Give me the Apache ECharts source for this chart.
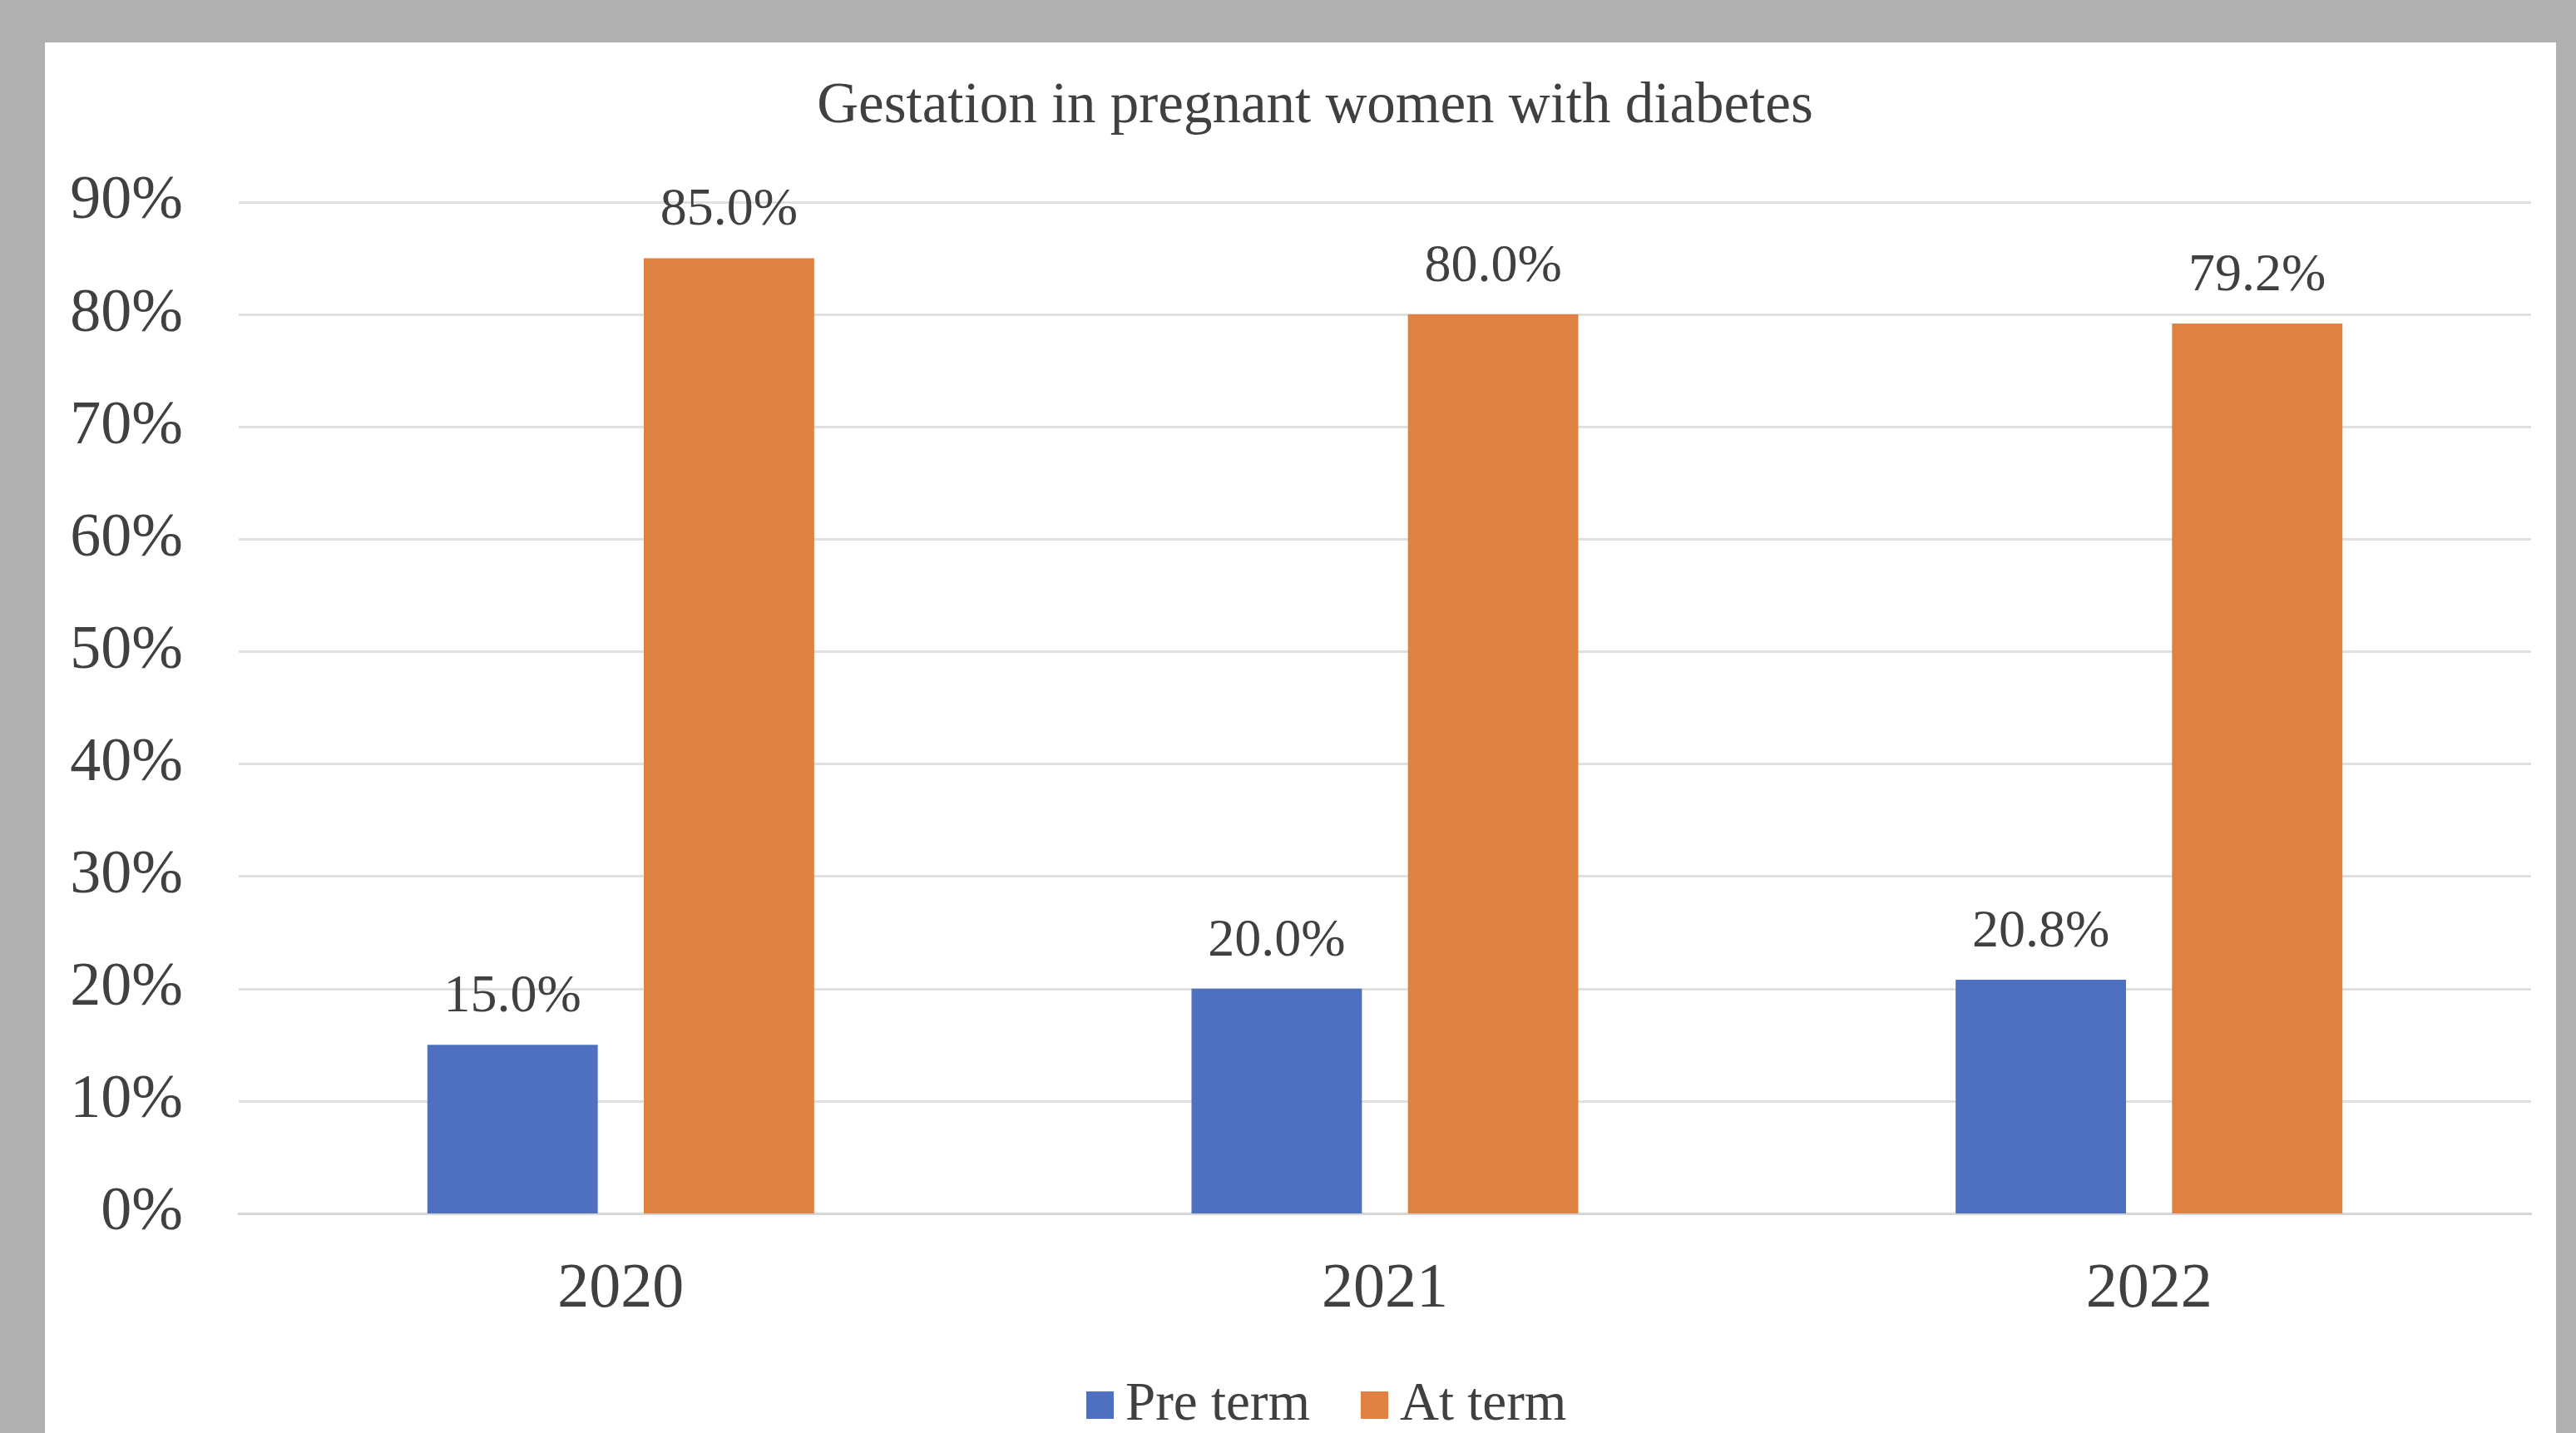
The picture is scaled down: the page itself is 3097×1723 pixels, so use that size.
<!DOCTYPE html>
<html>
<head>
<meta charset="utf-8">
<script src="https://cdn.jsdelivr.net/npm/echarts@6/dist/echarts.min.js"></script>
<style>
  html, body { margin: 0; padding: 0; background: #b0b0b0; width: 3097px; height: 1723px; overflow: hidden; }
  #card { position: absolute; left: 54px; top: 51px; width: 3019px; height: 1672px; background: #ffffff; }
  #chart { width: 3019px; height: 1672px; }
</style>
</head>
<body>
<div id="card"><div id="chart"></div></div>
<script>
const titleText = 'Gestation in pregnant women with diabetes';
const years = ['2020', '2021', '2022'];
const seriesNames = ['Pre term', 'At term'];
const preTerm = [15.0, 20.0, 20.8];
const atTerm = [85.0, 80.0, 79.2];
const yTicks = [0, 10, 20, 30, 40, 50, 60, 70, 80, 90];

const FONT = '"Liberation Serif", "Times New Roman", serif';
const TXT = '#404040';

const chart = echarts.init(document.getElementById('chart'), null, { renderer: 'canvas' });
chart.setOption({
  animation: false,
  backgroundColor: '#ffffff',
  title: {
    text: titleText,
    left: 1522,
    textAlign: 'center',
    top: 38,
    textStyle: { fontFamily: FONT, fontSize: 69, fontWeight: 'normal', color: TXT }
  },
  legend: {
    data: seriesNames,
    left: 1247,
    top: 1601,
    itemWidth: 33,
    itemHeight: 33,
    itemGap: 61,
    icon: 'rect',
    textStyle: { fontFamily: FONT, fontSize: 65, color: TXT, padding: [0, 0, 0, 9] }
  },
  grid: { left: 233, right: 30, top: 192, bottom: 264, containLabel: false },
  xAxis: {
    type: 'category',
    data: years,
    axisLine: { lineStyle: { color: '#d6d6d6', width: 3 } },
    axisTick: { show: false },
    axisLabel: { fontFamily: FONT, fontSize: 76, color: TXT, margin: 54, lineHeight: 76 }
  },
  yAxis: {
    type: 'value',
    min: yTicks[0],
    max: yTicks[yTicks.length - 1],
    interval: yTicks[1] - yTicks[0],
    axisLine: { show: false },
    axisTick: { show: false },
    splitLine: { lineStyle: { color: '#e0e0e0', width: 3 } },
    axisLabel: { fontFamily: FONT, fontSize: 74, color: TXT, margin: 67, padding: [8, 0, 0, 0], formatter: '{value}%' }
  },
  series: [
    {
      name: seriesNames[0],
      type: 'bar',
      data: preTerm,
      barWidth: '22.3%',
      barGap: '27%',
      itemStyle: { color: '#4e70be' },
      label: {
        show: true, position: 'top', distance: 25,
        fontFamily: FONT, fontSize: 64, color: TXT,
        formatter: p => p.value.toFixed(1) + '%'
      }
    },
    {
      name: seriesNames[1],
      type: 'bar',
      data: atTerm,
      barWidth: '22.3%',
      barGap: '27%',
      itemStyle: { color: '#de8142' },
      label: {
        show: true, position: 'top', distance: 25,
        fontFamily: FONT, fontSize: 64, color: TXT,
        formatter: p => p.value.toFixed(1) + '%'
      }
    }
  ]
});
</script>
</body>
</html>
